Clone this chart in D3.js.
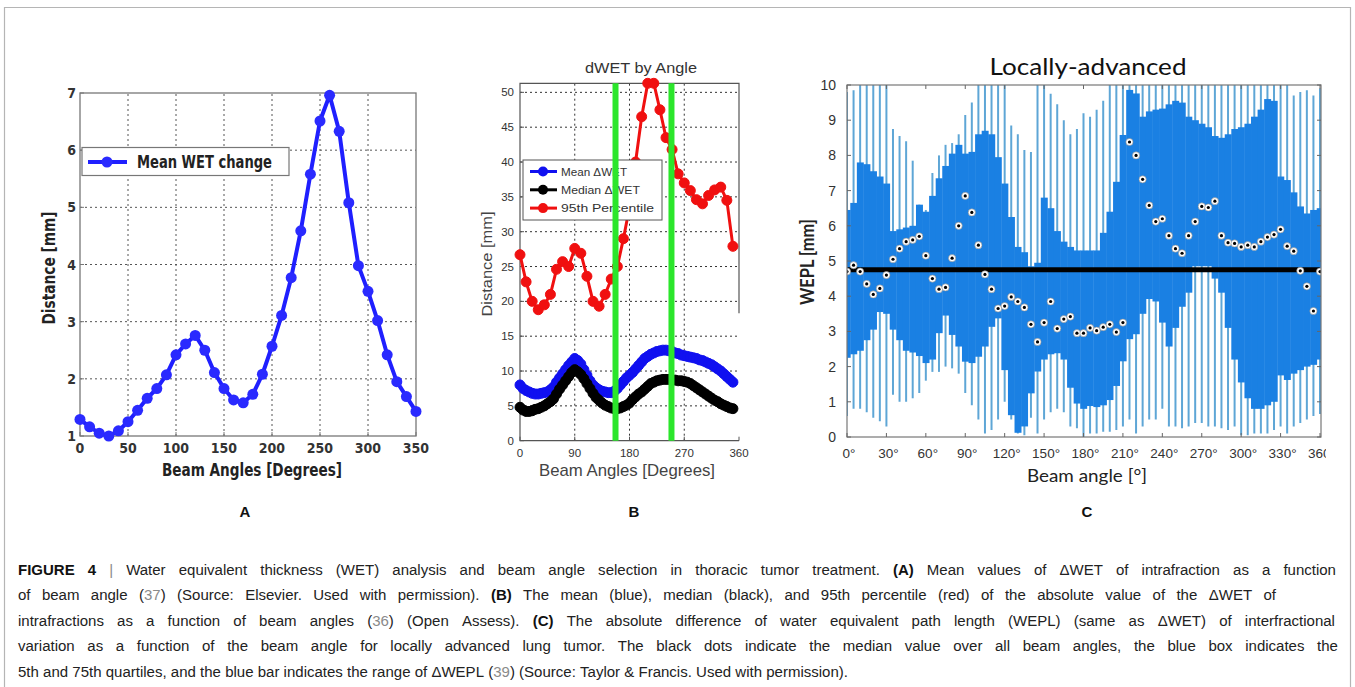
<!DOCTYPE html>
<html><head><meta charset="utf-8">
<script src="https://cdn.jsdelivr.net/npm/d3@7"></script>
<style>body{margin:0;background:#fff}svg{display:block}text{white-space:pre}</style>
</head><body>
<svg id="fig" width="1355" height="687"></svg>
<script>
// ---------- Panel A data ----------
const anglesA = [0,10,20,30,40,50,60,70,80,90,100,110,120,130,140,150,160,170,180,190,200,210,220,230,240,250,260,270,280,290,300,310,320,330,340,350];
const meanWET = [1.29,1.16,1.05,1.0,1.09,1.25,1.45,1.66,1.83,2.07,2.42,2.61,2.76,2.5,2.11,1.83,1.63,1.58,1.73,2.08,2.57,3.11,3.77,4.59,5.58,6.51,6.96,6.33,5.08,3.98,3.53,3.02,2.42,1.95,1.69,1.43];
const ticksAx = [0,50,100,150,200,250,300,350];
const ticksAy = [1,2,3,4,5,6,7];

// ---------- Panel B data ----------
const anglesB = [0,5,10,15,20,25,30,35,40,45,50,55,60,65,70,75,80,85,90,95,100,105,110,115,120,125,130,135,140,145,150,155,160,165,170,175,180,185,190,195,200,205,210,215,220,225,230,235,240,245,250,255,260,265,270,275,280,285,290,295,300,305,310,315,320,325,330,335,340,345,350];
const meanDWET = [8.0,7.5,7.2,7.0,6.8,6.7,6.7,6.8,6.9,7.0, 7.3,7.7,8.4,9.0,9.6,10.2,10.8,11.3,11.8,11.5, 11.0,10.2,9.4,8.6,8.0,7.6,7.3,7.1,7.0,6.9, 6.9,7.1,7.5,8.0,8.5,9.0,9.4,9.8,10.3,10.8, 11.3,11.8,12.1,12.4,12.6,12.8,12.9,13.0,13.0,12.9, 12.8,12.6,12.5,12.3,12.2,12.1,12.0,11.9,11.8,11.6, 11.5,11.3,11.1,10.9,10.6,10.3,10.0,9.6,9.2,8.8, 8.4];
const medianDWET = [4.8,4.4,4.2,4.2,4.3,4.5,4.6,4.8,5.0,5.3, 5.6,6.0,6.7,7.4,8.0,8.6,9.2,9.8,10.2,9.9, 9.5,8.9,8.2,7.5,6.8,6.2,5.8,5.4,5.1,4.9, 4.7,4.6,4.6,4.7,4.9,5.1,5.4,5.9,6.3,6.7, 7.0,7.4,7.8,8.2,8.4,8.6,8.7,8.8,8.8,8.8, 8.7,8.7,8.6,8.6,8.5,8.4,8.2,7.9,7.6,7.3, 7.0,6.7,6.4,6.1,5.8,5.6,5.3,5.1,4.9,4.7, 4.6];
const anglesB95 = [0,10,20,30,40,50,60,70,80,90,100,110,120,130,140,150,160,170,180,190,200,210,220,230,240,250,260,270,280,290,300,310,320,330,340,350];
const pct95DWET = [26.7,22.8,20.0,18.8,19.5,21.0,24.6,25.7,25.0,27.6,26.9,23.6,20.0,19.3,21.0,23.2,25.0,29.0,33.5,40.0,46.5,51.3,51.3,47.5,43.5,41.8,38.3,37.0,35.9,34.6,34.0,35.2,36.0,36.4,34.5,27.9];
const greenAngles = [157, 249];
const ticksBx = [0,90,180,270,360];
const ticksBy = [0,5,10,15,20,25,30,35,40,45,50];
const legendB = ["Mean \u0394WET","Median \u0394WET","95th Percentile"];

// ---------- Panel C data ----------
const anglesC = [0,5,10,15,20,25,30,35,40,45,50,55,60,65,70,75,80,85,90,95,100,105,110,115,120,125,130,135,140,145,150,155,160,165,170,175,180,185,190,195,200,205,210,215,220,225,230,235,240,245,250,255,260,265,270,275,280,285,290,295,300,305,310,315,320,325,330,335,340,345,350,355,360];
const q3C = [6.45,6.65,7.8,7.75,7.55,7.4,7.2,5.85,5.9,5.95, 6.0,6.6,6.4,6.85,7.35,7.7,8.05,8.3,8.05,8.1, 8.6,8.7,8.6,7.95,7.2,6.25,5.4,5.25,4.85,4.95, 6.8,6.5,5.85,5.55,5.4,5.3,5.3,5.3,5.3,5.8, 6.4,7.25,8.58,9.86,9.76,9.1,9.25,9.3,9.33,9.45, 9.55,9.5,9.1,9.0,8.9,8.8,8.55,8.5,8.6,8.75, 8.8,8.9,9.1,9.3,9.6,9.55,7.4,7.3,6.95,6.55, 6.35,6.45,6.5];
const q1C = [2.25,2.35,2.45,2.75,3.05,3.55,3.5,3.05,2.75,2.45, 2.4,2.3,2.1,2.2,2.95,3.45,2.9,2.57,2.14,2.1, 2.28,2.57,3.13,3.37,1.9,0.62,0.12,0.3,1.24,1.86, 2.2,2.35,2.38,2.2,1.4,0.95,0.8,0.88,0.85,0.9, 1.05,1.45,2.15,2.78,2.92,3.5,3.92,3.85,3.25,2.57, 3.1,3.7,4.1,4.85,4.85,4.85,4.5,4.1,3.1,2.2, 1.55,1.1,0.8,0.8,0.9,1.0,1.75,1.62,1.8,1.9, 2.0,2.05,2.2];
const whiskTopC = [9.8,9.85,10,10,10,10,10,8.75,8.55,8.4, 7.85,6.6,6.45,7.5,8.0,8.3,8.35,8.6,9.15,9.5, 10,10,10,10,10,8.85,8.6,8.15,8.1,10, 10,9.75,9.45,9.0,8.6,8.75,9.2,9.1,9.3,9.55, 10,10,10,10,10,10,10,10,10,10, 10,10,10,10,10,10,10,10,10,10, 10,10,10,10,10,10,10,10,9.7,9.8, 9.85,9.7,9.9];
const whiskBotC = [0.6,0.8,0.8,0.7,0.55,0.45,0.3,1.2,1.0,1.0, 1.1,1.25,1.6,1.85,1.85,2.0,1.95,1.8,1.25,0.9, 0.5,0.1,0.2,0.5,1.0,0.5,0.1,0.05,0.55,0.1, 0.5,0.7,0.8,0.7,0.3,0.25,0.0,0.1,0.1,0.15, 0.15,0.2,0.3,0.5,0.1,0.3,0.5,0.5,0.8,0.3, 0.3,0.25,0.3,0.4,0.4,0.3,0.3,0.25,0.2,0.3, 0.05,0.05,0.1,0.1,0.1,0.2,0.3,0.1,0.3,0.4, 0.5,0.6,0.65];
const medianC = [4.7,4.88,4.7,4.35,4.05,4.22,4.6,5.05,5.35,5.55, 5.6,5.7,5.15,4.5,4.2,4.25,5.08,6.0,6.85,6.38, 5.45,4.62,4.2,3.65,3.72,3.98,3.85,3.68,3.2,2.7, 3.25,3.85,3.08,3.35,3.42,2.95,2.95,3.1,3.02,3.12, 3.2,2.98,3.25,8.38,8.0,7.32,6.58,6.12,6.2,5.72, 5.35,5.22,5.72,6.12,6.55,6.52,6.7,5.72,5.52,5.5, 5.4,5.45,5.4,5.55,5.68,5.75,5.9,5.42,5.28,4.72, 4.28,3.58,4.7];
const overallMedianC = 4.75;
const ticksCx = [0,30,60,90,120,150,180,210,240,270,300,330,360];
const ticksCy = [0,1,2,3,4,5,6,7,8,9,10];

const capLines = [
  [["b","FIGURE 4"],["s"," | "],["n","Water equivalent thickness (WET) analysis and beam angle selection in thoracic tumor treatment. "],["b","(A)"],["n"," Mean values of \u0394WET of intrafraction as a function"]],
  [["n","of beam angle ("],["g","37"],["n",") (Source: Elsevier. Used with permission). "],["b","(B)"],["n"," The mean (blue), median (black), and 95th percentile (red) of the absolute value of the \u0394WET of"]],
  [["n","intrafractions as a function of beam angles ("],["g","36"],["n",") (Open Assess). "],["b","(C)"],["n"," The absolute difference of water equivalent path length (WEPL) (same as \u0394WET) of interfractional"]],
  [["n","variation as a function of the beam angle for locally advanced lung tumor. The black dots indicate the median value over all beam angles, the blue box indicates the"]],
  [["n","5th and 75th quartiles, and the blue bar indicates the range of \u0394WEPL ("],["g","39"],["n",") (Source: Taylor & Francis. Used with permission)."]]
];
const capWidths = [1318,1258,1317,1320,830];

// ---------- drawing ----------
const svg = d3.select("#fig");
const SANS = "'Liberation Sans', Arial, sans-serif";
const NARROW = "'Liberation Sans Narrow','DejaVu Sans Condensed','Liberation Sans',sans-serif";
const LATO = "Lato, 'Open Sans', sans-serif";
function fit(sel, w){ sel.attr("textLength", w).attr("lengthAdjust","spacingAndGlyphs"); return sel; }

// outer border
svg.append("path").attr("d","M4.5,687 V7.5 H1350.5 V687").attr("fill","none").attr("stroke","#b5b5b5").attr("stroke-width",1.2);

// ===== Panel A =====
const xA = d3.scaleLinear([0,350],[80,416]);
const yA = d3.scaleLinear([1,7],[436,93]);
const gA = svg.append("g");
const gridA = gA.append("g").attr("stroke","#555").attr("stroke-dasharray","2,3").attr("stroke-width",1);
ticksAx.slice(1,-1).forEach(t=>gridA.append("line").attr("x1",xA(t)).attr("x2",xA(t)).attr("y1",yA(1)).attr("y2",yA(7)));
ticksAy.slice(1,-1).forEach(t=>gridA.append("line").attr("y1",yA(t)).attr("y2",yA(t)).attr("x1",xA(0)).attr("x2",xA(350)));
gA.append("rect").attr("x",xA(0)).attr("y",yA(7)).attr("width",xA(350)-xA(0)).attr("height",yA(1)-yA(7)).attr("fill","none").attr("stroke","#777").attr("stroke-width",1.3);
ticksAx.forEach(t=>{
  gA.append("line").attr("x1",xA(t)).attr("x2",xA(t)).attr("y1",yA(1)).attr("y2",yA(1)-4).attr("stroke","#777");
  gA.append("text").attr("x",xA(t)).attr("y",453).attr("text-anchor","middle").attr("font-family",NARROW).attr("font-weight","bold").attr("font-size",14).attr("fill","#333").text(t);
});
ticksAy.forEach(t=>{
  gA.append("line").attr("x1",xA(0)).attr("x2",xA(0)+4).attr("y1",yA(t)).attr("y2",yA(t)).attr("stroke","#777");
  gA.append("text").attr("x",76).attr("y",yA(t)+5).attr("text-anchor","end").attr("font-family",NARROW).attr("font-weight","bold").attr("font-size",14).attr("fill","#333").text(t);
});
fit(gA.append("text").attr("transform","translate(55,268) rotate(-90)").attr("text-anchor","middle").attr("font-family",NARROW).attr("font-weight","bold").attr("font-size",17).attr("fill","#222").text("Distance [mm]"),113);
fit(gA.append("text").attr("x",252).attr("y",476).attr("text-anchor","middle").attr("font-family",NARROW).attr("font-weight","bold").attr("font-size",18).attr("fill","#222").text("Beam Angles [Degrees]"),180);
const lineA = d3.line().x((d,i)=>xA(anglesA[i])).y(d=>yA(d));
gA.append("path").attr("d",lineA(meanWET)).attr("fill","none").attr("stroke","#1f1fff").attr("stroke-width",4).attr("stroke-linejoin","round");
gA.selectAll("circle.a").data(meanWET).join("circle").attr("class","a").attr("cx",(d,i)=>xA(anglesA[i])).attr("cy",d=>yA(d)).attr("r",5.5).attr("fill","#2a2aff");
// legend A
gA.append("rect").attr("x",82).attr("y",147.5).attr("width",207).attr("height",28).attr("fill","#fff").attr("stroke","#777").attr("stroke-width",1.2);
gA.append("line").attr("x1",88).attr("x2",127).attr("y1",162).attr("y2",162).attr("stroke","#1f1fff").attr("stroke-width",4);
gA.append("circle").attr("cx",107).attr("cy",162).attr("r",5.5).attr("fill","#2a2aff");
fit(gA.append("text").attr("x",137).attr("y",168).attr("font-family",NARROW).attr("font-weight","bold").attr("font-size",17).attr("fill","#222").text("Mean WET change"),135);

// ===== Panel B =====
const xB = d3.scaleLinear([0,360],[520,739]);
const yB = d3.scaleLinear([0,51.3],[440.7,83.3]);
const gB = svg.append("g");
const gridB = gB.append("g").attr("stroke","#333").attr("stroke-dasharray","2,3").attr("stroke-width",1);
ticksBx.slice(1,-1).forEach(t=>gridB.append("line").attr("x1",xB(t)).attr("x2",xB(t)).attr("y1",yB(0)).attr("y2",yB(51.3)));
ticksBy.slice(1).forEach(t=>gridB.append("line").attr("y1",yB(t)).attr("y2",yB(t)).attr("x1",xB(0)).attr("x2",xB(360)));
gB.append("path").attr("d",`M${xB(360)},${yB(18.3)} V${yB(51.3)} H${xB(0)} V${yB(0)} H${xB(360)}`).attr("fill","none").attr("stroke","#555").attr("stroke-width",1.2);
ticksBx.forEach(t=>{
  gB.append("line").attr("x1",xB(t)).attr("x2",xB(t)).attr("y1",yB(0)).attr("y2",yB(0)-4).attr("stroke","#555");
  gB.append("text").attr("x",xB(t)).attr("y",457).attr("text-anchor","middle").attr("font-family",SANS).attr("font-size",11.5).attr("fill","#333").text(t);
});
ticksBy.forEach(t=>{
  gB.append("line").attr("x1",xB(0)).attr("x2",xB(0)+4).attr("y1",yB(t)).attr("y2",yB(t)).attr("stroke","#555");
  gB.append("text").attr("x",514).attr("y",yB(t)+4).attr("text-anchor","end").attr("font-family",SANS).attr("font-size",11.5).attr("fill","#333").text(t);
});
fit(gB.append("text").attr("x",641).attr("y",73).attr("text-anchor","middle").attr("font-family",SANS).attr("font-size",15).attr("fill","#333").text("dWET by Angle"),112);
fit(gB.append("text").attr("transform","translate(492,264) rotate(-90)").attr("text-anchor","middle").attr("font-family",SANS).attr("font-size",15).attr("fill","#444").text("Distance [mm]"),105);
fit(gB.append("text").attr("x",627).attr("y",476).attr("text-anchor","middle").attr("font-family",SANS).attr("font-size",17).attr("fill","#444").text("Beam Angles [Degrees]"),176);
const seriesB = [
  {ang:anglesB95, val:pct95DWET, color:"#f01010"},
  {ang:anglesB, val:meanDWET, color:"#1010f0"},
  {ang:anglesB, val:medianDWET, color:"#000"}
];
seriesB.forEach(s=>{
  const ln = d3.line().x((d,i)=>xB(s.ang[i])).y(d=>yB(d));
  gB.append("path").attr("d",ln(s.val)).attr("fill","none").attr("stroke",s.color).attr("stroke-width",3);
  gB.append("g").selectAll("circle").data(s.val).join("circle").attr("cx",(d,i)=>xB(s.ang[i])).attr("cy",d=>yB(d)).attr("r",5).attr("fill",s.color).attr("stroke",s.color).attr("stroke-width",1);
});
// legend B
gB.append("rect").attr("x",523).attr("y",160).attr("width",139).attr("height",60).attr("fill","#fff").attr("stroke","#555").attr("stroke-width",1);
[ "#1010f0","#000","#f01010"].forEach((c,i)=>{
  const yy = 171.5 + i*18.3;
  gB.append("line").attr("x1",530).attr("x2",557).attr("y1",yy).attr("y2",yy).attr("stroke",c).attr("stroke-width",3);
  gB.append("circle").attr("cx",543).attr("cy",yy).attr("r",5).attr("fill",c);
  fit(gB.append("text").attr("x",561).attr("y",yy+4).attr("font-family",SANS).attr("font-size",11.5).attr("fill","#333").text(legendB[i]),i===2?93:(i===1?79:66));
});
greenAngles.forEach(a=>gB.append("line").attr("x1",xB(a)).attr("x2",xB(a)).attr("y1",yB(51.3)).attr("y2",yB(0)).attr("stroke","#2be62b").attr("stroke-width",6));

// ===== Panel C =====
const xC = d3.scaleLinear([0,360],[847,1320]);
const yC = d3.scaleLinear([0,10],[437,85]);
const gC = svg.append("g");
svg.append("defs").append("clipPath").attr("id","clipC").append("rect").attr("x",847).attr("y",85).attr("width",474).attr("height",352);
const plotC = gC.append("g").attr("clip-path","url(#clipC)");
const bw = xC(5)-xC(0);
plotC.selectAll("line.w").data(anglesC).join("line").attr("class","w")
  .attr("x1",d=>xC(d)).attr("x2",d=>xC(d)).attr("y1",(d,i)=>yC(whiskBotC[i])).attr("y2",(d,i)=>yC(whiskTopC[i])-(whiskTopC[i]>=10?4:0))
  .attr("stroke","#5ea6d6").attr("stroke-width",2);
plotC.selectAll("rect.b").data(anglesC).join("rect").attr("class","b")
  .attr("x",d=>xC(d)-bw/2).attr("width",bw+0.4).attr("y",(d,i)=>yC(q3C[i])).attr("height",(d,i)=>yC(q1C[i])-yC(q3C[i]))
  .attr("fill","#1a80e3");
plotC.append("line").attr("x1",xC(0)).attr("x2",xC(360)).attr("y1",yC(overallMedianC)).attr("y2",yC(overallMedianC)).attr("stroke","#000").attr("stroke-width",5);
const dots = plotC.selectAll("g.m").data(anglesC).join("g").attr("class","m").attr("transform",(d,i)=>`translate(${xC(d)},${yC(medianC[i])})`);
dots.append("circle").attr("r",3.6).attr("fill","#fff").attr("stroke","#8a8a8a").attr("stroke-width",0.6);
dots.append("circle").attr("r",1.6).attr("fill","#000");
gC.append("rect").attr("x",847).attr("y",85).attr("width",474).attr("height",352).attr("fill","none").attr("stroke","#777").attr("stroke-width",1.2);
svg.append("defs").append("clipPath").attr("id","clipCL").append("rect").attr("x",830).attr("y",440).attr("width",496).attr("height",30);
const labC = gC.append("g").attr("clip-path","url(#clipCL)");
ticksCx.forEach(t=>{
  gC.append("line").attr("x1",xC(t)).attr("x2",xC(t)).attr("y1",437).attr("y2",433).attr("stroke","#666");
  gC.append("line").attr("x1",xC(t)).attr("x2",xC(t)).attr("y1",85).attr("y2",89).attr("stroke","#666");
  labC.append("text").attr("x",xC(t)+2).attr("y",458).attr("text-anchor","middle").attr("font-family",SANS).attr("font-size",13.5).attr("fill","#333").text(t+"\u00b0");
});
ticksCy.forEach(t=>{
  gC.append("line").attr("x1",847).attr("x2",851).attr("y1",yC(t)).attr("y2",yC(t)).attr("stroke","#666");
  gC.append("line").attr("x1",1321).attr("x2",1317).attr("y1",yC(t)).attr("y2",yC(t)).attr("stroke","#666");
  gC.append("text").attr("x",836).attr("y",yC(t)+5).attr("text-anchor","end").attr("font-family",SANS).attr("font-size",14).attr("fill","#333").text(t);
});
fit(gC.append("text").attr("x",1088).attr("y",75).attr("text-anchor","middle").attr("font-family",LATO).attr("font-size",24).attr("fill","#111").text("Locally-advanced"),197);
fit(gC.append("text").attr("transform","translate(814,262) rotate(-90)").attr("text-anchor","middle").attr("font-family",LATO).attr("font-weight","bold").attr("font-size",18).attr("fill","#222").text("WEPL [mm]"),86);
fit(gC.append("text").attr("x",1087).attr("y",482).attr("text-anchor","middle").attr("font-family",LATO).attr("font-size",18).attr("fill","#222").text("Beam angle [\u00b0]"),120);

// panel letters
[["A",245],["B",634],["C",1087]].forEach(([l,x])=>svg.append("text").attr("x",x).attr("y",517).attr("text-anchor","middle").attr("font-family",SANS).attr("font-weight","bold").attr("font-size",15).attr("fill","#111").text(l));

// caption: justified lines (last line natural)
const capFont = 15.5;
function styleSeg(ts, st){
  if(st==="b") ts.attr("font-weight","bold").attr("fill","#111");
  if(st==="g") ts.attr("fill","#8a8a8a");
  if(st==="s") ts.attr("fill","#888");
}
function toWords(parts){
  const words=[[]];
  parts.forEach(([st,txt])=>{
    txt.split(" ").forEach((tok,j)=>{
      if(j>0) words.push([]);
      if(tok!=="") words[words.length-1].push([st,tok]);
    });
  });
  return words.filter(w=>w.length);
}
const capG = svg.append("g").attr("font-family",SANS).attr("font-size",capFont).attr("fill","#222");
const sp = capG.append("text").text("a a"), sp2 = capG.append("text").text("aa");
const spaceW = sp.node().getComputedTextLength()-sp2.node().getComputedTextLength();
sp.remove(); sp2.remove();
const lineWords = capLines.map(toWords);
const lineEls = lineWords.map((words,i)=>{
  const g = capG.append("g");
  const els = words.map(w=>{
    const t = g.append("text");
    w.forEach(([st,txt])=>styleSeg(t.append("tspan").text(txt),st));
    return {t, w:t.node().getComputedTextLength()};
  });
  return {g, els};
});
const last = lineEls[lineEls.length-1];
const lastNat = d3.sum(last.els,e=>e.w)+spaceW*(last.els.length-1);
const sx = capWidths[capWidths.length-1]/lastNat;
lineEls.forEach((L,i)=>{
  const sumW = d3.sum(L.els,e=>e.w);
  let gap = i<lineEls.length-1 ? (capWidths[i]/sx - sumW)/(L.els.length-1) : spaceW;
  let s = sx;
  if(gap < spaceW){ gap = spaceW; s = capWidths[i]/(sumW+spaceW*(L.els.length-1)); }
  let x=0;
  L.els.forEach(e=>{ e.t.attr("x",x); x+=e.w+gap; });
  L.g.attr("transform",`translate(18,${575+i*25.4}) scale(${s},1)`);
});
</script>
</body></html>
